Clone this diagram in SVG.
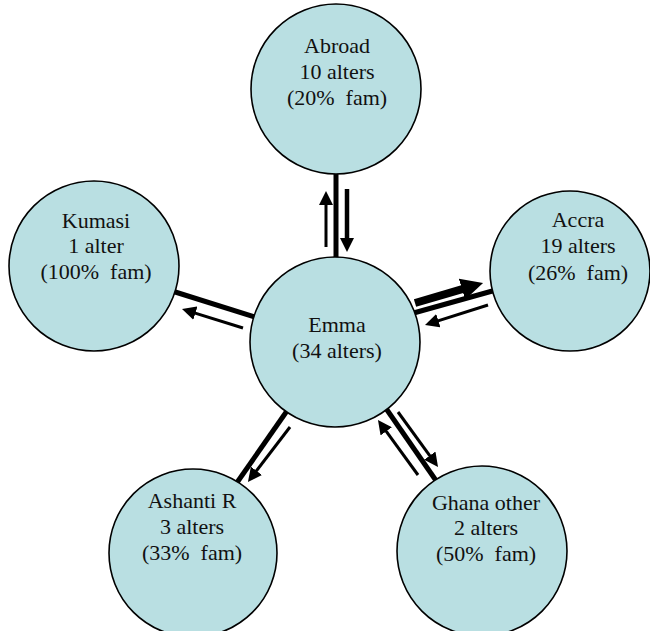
<svg xmlns="http://www.w3.org/2000/svg" width="650" height="631" viewBox="0 0 650 631">
  <style>
    .node { fill: #b9dfe2; stroke: #000; stroke-width: 1.6; }
    .label { font-family: "Liberation Serif", "Times New Roman", serif; font-size: 22px; fill: #111; text-anchor: middle; white-space: pre; }
    .tie { stroke: #000; stroke-width: 5; fill: none; }
    .flow { stroke: #000; stroke-width: 3; fill: none; marker-end: url(#head); }
    .flow-mid { stroke: #000; stroke-width: 4.5; fill: none; marker-end: url(#head); }
    .flow-big { stroke: #000; stroke-width: 8; fill: none; marker-end: url(#bighead); }
  </style>
  <defs>
    <marker id="head" viewBox="0 0 14 14" refX="7" refY="7" markerWidth="14" markerHeight="14" markerUnits="userSpaceOnUse" orient="auto">
      <path d="M0,0 L14,7 L0,14 z" fill="#000"/>
    </marker>
    <marker id="bighead" viewBox="0 0 22 22" refX="11" refY="11" markerWidth="22" markerHeight="22" markerUnits="userSpaceOnUse" orient="auto">
      <path d="M0,0 L22,11 L0,22 z" fill="#000"/>
    </marker>
  </defs>

  <rect width="650" height="631" fill="#fff"/>

  <g id="connectors">
    <!-- Emma - Abroad -->
    <line class="tie" x1="336" y1="168" x2="336" y2="262"/>
    <line class="flow" x1="326" y1="247" x2="326" y2="198"/>
    <line class="flow-mid" x1="347" y1="189" x2="347" y2="245"/>
    <!-- Emma - Kumasi -->
    <line class="tie" x1="172" y1="291" x2="258" y2="318"/>
    <line class="flow" x1="243" y1="328" x2="188.7" y2="311.1"/>
    <!-- Emma - Accra -->
    <line class="tie" x1="410" y1="314" x2="496" y2="290"/>
    <line class="flow-big" x1="415" y1="303" x2="472.5" y2="286.1"/>
    <line class="flow" x1="488" y1="305" x2="431.7" y2="322.9"/>
    <!-- Emma - Ashanti R -->
    <line class="tie" x1="289" y1="408" x2="236" y2="484"/>
    <line class="flow" x1="290" y1="427" x2="252.2" y2="476.4"/>
    <!-- Emma - Ghana other -->
    <line class="tie" x1="385" y1="407" x2="437" y2="482"/>
    <line class="flow" x1="398" y1="412" x2="433.9" y2="461.3"/>
    <line class="flow" x1="418" y1="475" x2="382.1" y2="425.7"/>
  </g>

  <g id="abroad">
    <circle class="node" cx="336" cy="89" r="85"/>
    <text class="label" x="337" y="53">Abroad</text>
    <text class="label" x="337" y="79">10 alters</text>
    <text class="label" x="337" y="105">(20%  fam)</text>
  </g>

  <g id="kumasi">
    <circle class="node" cx="94" cy="266" r="85"/>
    <text class="label" x="96" y="228">Kumasi</text>
    <text class="label" x="96" y="253">1 alter</text>
    <text class="label" x="96" y="279">(100%  fam)</text>
  </g>

  <g id="accra">
    <circle class="node" cx="570" cy="271" r="80"/>
    <text class="label" x="578" y="227">Accra</text>
    <text class="label" x="578" y="253">19 alters</text>
    <text class="label" x="578" y="280">(26%  fam)</text>
  </g>

  <g id="emma">
    <circle class="node" cx="335" cy="342" r="85"/>
    <text class="label" x="337" y="332">Emma</text>
    <text class="label" x="337" y="358">(34 alters)</text>
  </g>

  <g id="ashanti">
    <circle class="node" cx="193" cy="553" r="84"/>
    <text class="label" x="192" y="508">Ashanti R</text>
    <text class="label" x="192" y="534">3 alters</text>
    <text class="label" x="192" y="560">(33%  fam)</text>
  </g>

  <g id="ghana-other">
    <circle class="node" cx="482" cy="551" r="85"/>
    <text class="label" x="486" y="510">Ghana other</text>
    <text class="label" x="486" y="535">2 alters</text>
    <text class="label" x="486" y="561">(50%  fam)</text>
  </g>
</svg>
